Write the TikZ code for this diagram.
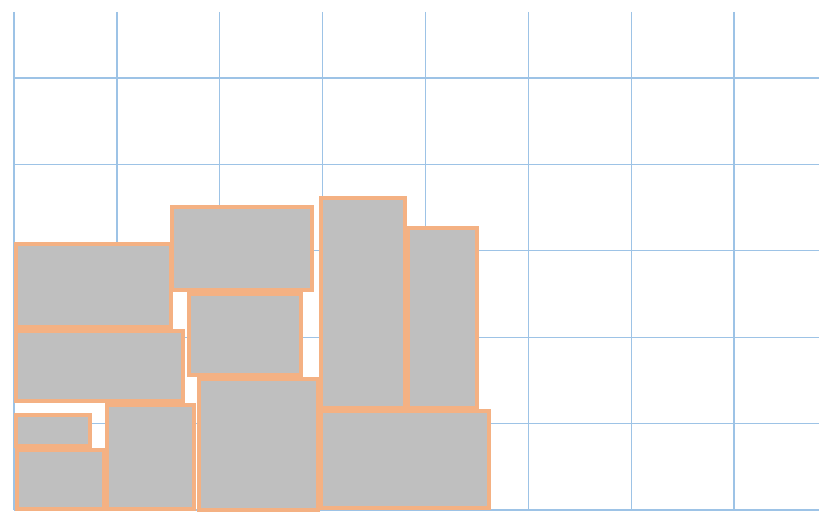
\documentclass[tikz,border=0pt]{standalone}
\usepackage{tikz}
\definecolor{gridblue}{HTML}{9DC3E6}
\definecolor{boxedge}{HTML}{F4B183}
\definecolor{boxfill}{HTML}{BFBFBF}
\begin{document}
\begin{tikzpicture}[x=1pt,y=-1pt,
  gridline/.style={gridblue,line width=1.3pt},
  box/.style={draw=boxedge,fill=boxfill,line width=4pt}]
\useasboundingbox (0,0) rectangle (827,519);
% grid
\foreach \i in {0,...,7}
  \draw[gridline] ({14+102.857*\i},12) -- ({14+102.857*\i},510);
\foreach \j in {0,...,5}
  \draw[gridline] (14,{78+86.4*\j}) -- (819,{78+86.4*\j});
% boxes, left column
\draw[box] (16,243.5) rectangle (170.5,326.5);
\draw[box] (16,330.5) rectangle (183,400.5);
\draw[box] (16,414.5) rectangle (89.5,445.5);
\draw[box] (16.5,449.5) rectangle (103.5,509);
\draw[box] (107,405) rectangle (194,509);
% middle stack
\draw[box] (172,206.5) rectangle (312,290);
\draw[box] (189,293.5) rectangle (300.5,375);
\draw[box] (198.5,378.5) rectangle (317.5,509.5);
% tall pair and base
\draw[box] (321,198) rectangle (405,408);
\draw[box] (408,227.5) rectangle (477,408);
\draw[box] (321,411) rectangle (489,508);
\end{tikzpicture}
\end{document}
